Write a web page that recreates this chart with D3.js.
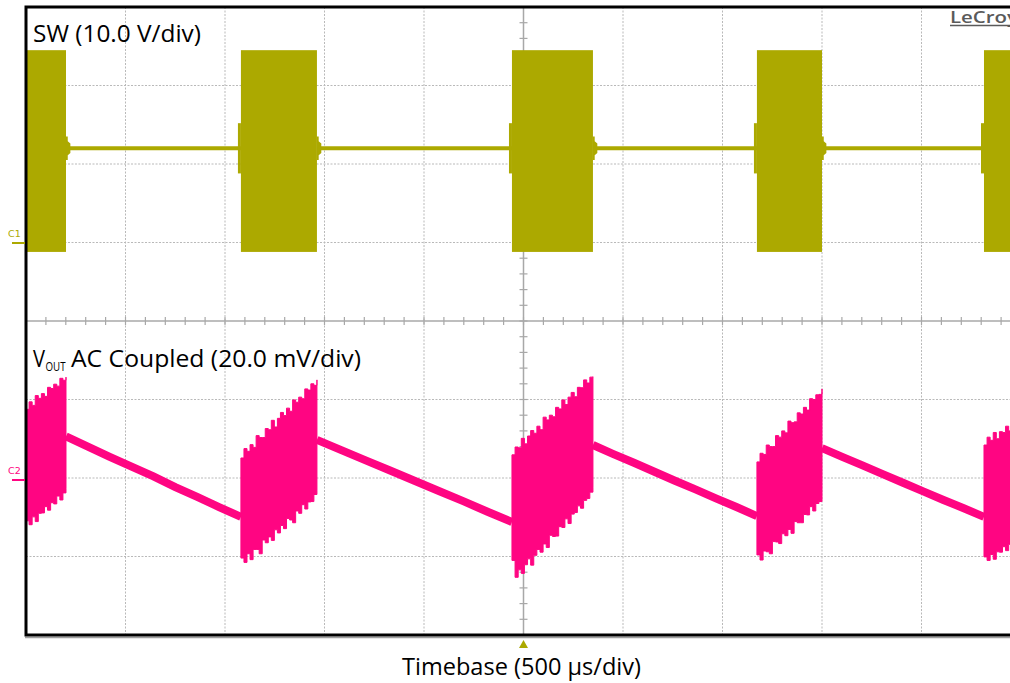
<!DOCTYPE html>
<html><head><meta charset="utf-8">
<script src="https://cdn.jsdelivr.net/npm/d3@7"></script>
<style>html,body{margin:0;padding:0;background:#fff;} svg{display:block;}</style>
</head><body>
<svg id="c" width="1010" height="683"></svg>
<script>
// ---- data (read from the scope capture) ----
const timeDomain = [0, 5000];          // µs, 10 div × 500 µs/div
const timeDivs = 10;
const voltDivs = 8;
const swScale = 10;                    // V/div
const voutScale = 20;                  // mV/div
const swOffsetDiv = 1;                 // C1 ground marker position (div)
const voutOffsetDiv = -2;              // C2 zero marker position (div)

const burstStart = [0, 1080, 2442, 3673, 4814];   // µs
const burstEnd   = [201, 1462, 2849, 4000, 5000]; // µs

const swHigh = 24.5;   // V
const swLow = -1.2;    // V
const swIdle = 12.0;   // V
const swRingPre = 3.2;     // V amplitude of ringing before a burst
const swRingPost = 1.5;    // V amplitude of ringing after a burst
const swRingPreDur = 15;   // µs
const swRingPostDur = 22;  // µs

// Vout ripple envelope during each burst (mV), evenly sampled from burst start to end
const voutBurstHi = [
  [17.5, 19.4, 18.5, 21.0, 20.3, 21.5, 20.8, 23.1, 22.8, 23.9, 23.4, 25.4, 24.9, 25.7],
  [5.1, 7.5, 6.8, 8.5, 7.8, 10.8, 10.3, 10.3, 12.6, 12.3, 14.7, 13.0, 15.2, 16.7, 15.9, 17.8, 17.0, 19.9, 19.3, 20.6, 20.2, 22.7, 22.4, 24.0, 23.6, 25.0],
  [5.9, 7.9, 7.7, 10.1, 8.7, 10.7, 12.1, 11.4, 13.2, 12.3, 15.5, 14.8, 16.0, 15.6, 18.0, 17.6, 19.9, 18.7, 20.6, 21.8, 20.7, 23.1, 23.0, 25.0, 24.2, 25.7, 25.8],
  [4.1, 6.3, 6.0, 8.4, 8.0, 8.0, 10.8, 10.4, 12.0, 11.5, 14.5, 14.1, 14.3, 16.6, 16.3, 18.0, 17.3, 20.2, 20.0, 21.2, 21.3, 22.7],
  [8.4, 10.4, 9.6, 11.6, 10.0, 11.8, 11.6, 13.2, 12.0, 13.7, 13.3, 14.4, 14.0]
];
const voutBurstLo = [
  [-10.9, -11.9, -9.9, -11.1, -9.0, -8.9, -7.3, -8.2, -6.3, -6.6, -4.6, -5.6, -3.8, -2.6],
  [-20.4, -21.5, -19.3, -20.8, -18.2, -18.2, -19.3, -15.8, -16.5, -15.0, -15.9, -13.2, -14.0, -12.1, -12.9, -10.3, -10.7, -11.4, -8.4, -9.0, -6.8, -7.9, -6.1, -6.0, -4.2, -3.1],
  [-21.0, -25.3, -23.4, -24.3, -22.1, -20.6, -22.2, -19.7, -18.2, -18.9, -16.8, -17.7, -14.6, -14.9, -14.8, -12.4, -12.6, -10.4, -11.6, -9.2, -8.8, -7.1, -7.7, -5.7, -5.2, -3.6, -2.5],
  [-19.6, -20.9, -18.6, -18.8, -19.3, -16.2, -16.3, -16.7, -14.2, -14.7, -13.1, -14.1, -11.1, -11.4, -11.4, -9.3, -9.4, -7.3, -8.4, -6.5, -6.0, -4.3],
  [-20.1, -21.0, -19.5, -20.7, -18.8, -18.9, -17.5, -18.5, -16.9, -17.2, -15.5, -16.5, -14.5]
];
// Vout discharge between bursts (mV), evenly sampled from burst end to next burst start
const voutDecay = [
  [10.6, 8.0, 5.4, 2.9, 0.4, -2.3, -4.8, -7.4, -9.9],
  [9.7, 7.1, 4.5, 1.9, -0.7, -3.3, -5.9, -8.6, -11.2],
  [8.4, 6.1, 3.9, 1.6, -0.7, -2.9, -5.2, -7.4, -9.7],
  [7.6, 5.4, 3.2, 1.0, -1.2, -3.4, -5.6, -7.7, -9.9]
];

const swLabel = "SW (10.0 V/div)";
const voutLabelMain = "V";
const voutLabelSub = "OUT";
const voutLabelRest = "AC Coupled (20.0 mV/div)";
const timeLabel = "Timebase (500 µs/div)";
const brand = "LeCroy";

// ---- drawing ----
const swColor = "#aca900";
const voutColor = "#ff0582";
const svg = d3.select("#c");
const L = 26, T = 7, R = 1021, B = 635;
const x = d3.scaleLinear(timeDomain, [L, R]);
const yDiv = d3.scaleLinear([-voltDivs / 2, voltDivs / 2], [B, T]);
const ySW = v => yDiv(v / swScale + swOffsetDiv);
const yVo = mv => yDiv(mv / voutScale + voutOffsetDiv);
const divT = (timeDomain[1] - timeDomain[0]) / timeDivs;

svg.append("defs").append("clipPath").attr("id", "plot")
  .append("rect").attr("x", L).attr("y", T).attr("width", R - L).attr("height", B - T);

// grid
const grid = svg.append("g");
d3.range(1, timeDivs).filter(i => i !== timeDivs / 2).forEach(i => {
  grid.append("line").attr("x1", x(i * divT)).attr("x2", x(i * divT))
    .attr("y1", T).attr("y2", B).attr("stroke", "#b9b9b9").attr("stroke-width", 1)
    .attr("stroke-dasharray", "2,1.5");
});
d3.range(-voltDivs / 2 + 1, voltDivs / 2).filter(j => j !== 0).forEach(j => {
  grid.append("line").attr("x1", L).attr("x2", R)
    .attr("y1", yDiv(j)).attr("y2", yDiv(j)).attr("stroke", "#b9b9b9").attr("stroke-width", 1)
    .attr("stroke-dasharray", "2,1.5");
});
// center axes with minor ticks
const axC = "#a8a8a8";
const cx = x(timeDomain[1] / 2), cy = yDiv(0);
grid.append("line").attr("x1", L).attr("x2", R).attr("y1", cy).attr("y2", cy)
  .attr("stroke", axC).attr("stroke-width", 1.5);
grid.append("line").attr("x1", cx).attr("x2", cx).attr("y1", T).attr("y2", B)
  .attr("stroke", axC).attr("stroke-width", 1.5);
d3.range(0, timeDivs * 5 + 1).forEach(k => {
  const px = x(k * divT / 5);
  grid.append("line").attr("x1", px).attr("x2", px).attr("y1", cy - 4).attr("y2", cy + 4)
    .attr("stroke", axC).attr("stroke-width", 1.2);
});
d3.range(0, voltDivs * 5 + 1).forEach(k => {
  const py = yDiv(-voltDivs / 2 + k / 5);
  grid.append("line").attr("x1", cx - 4).attr("x2", cx + 4).attr("y1", py).attr("y2", py)
    .attr("stroke", axC).attr("stroke-width", 1.2);
});

const traces = svg.append("g").attr("clip-path", "url(#plot)");

// SW trace
const n = burstStart.length;
for (let i = 0; i < n; i++) {
  if (i < n - 1) {
    const e = burstEnd[i];
    traces.append("line").attr("x1", x(e)).attr("x2", x(burstStart[i + 1]))
      .attr("y1", ySW(swIdle)).attr("y2", ySW(swIdle))
      .attr("stroke", swColor).attr("stroke-width", 4);
    traces.append("path").attr("fill", swColor).attr("d", d3.line()([
      [x(e), ySW(swIdle + swRingPost)], [x(e + swRingPostDur * 0.4), ySW(swIdle + swRingPost)],
      [x(e + swRingPostDur * 0.4), ySW(swIdle + swRingPost * 0.6)],
      [x(e + swRingPostDur), ySW(swIdle + swRingPost * 0.4)],
      [x(e + swRingPostDur), ySW(swIdle - swRingPost * 0.4)],
      [x(e + swRingPostDur * 0.4), ySW(swIdle - swRingPost * 0.6)],
      [x(e + swRingPostDur * 0.4), ySW(swIdle - swRingPost)], [x(e), ySW(swIdle - swRingPost)]
    ]) + "Z");
  }
  traces.append("rect").attr("x", x(burstStart[i])).attr("width", x(burstEnd[i]) - x(burstStart[i]))
    .attr("y", ySW(swHigh)).attr("height", ySW(swLow) - ySW(swHigh)).attr("fill", swColor);
  if (i > 0) {
    traces.append("rect").attr("x", x(burstStart[i] - swRingPreDur)).attr("width", x(burstStart[i]) - x(burstStart[i] - swRingPreDur))
      .attr("y", ySW(swIdle + swRingPre)).attr("height", ySW(swIdle - swRingPre) - ySW(swIdle + swRingPre))
      .attr("fill", swColor);
  }
}

// Vout trace
const dline = d3.line().x(d => x(d.t)).y(d => yVo(d.v));
voutDecay.forEach((arr, i) => {
  const t0 = burstEnd[i], t1 = burstStart[i + 1];
  const pts = arr.map((v, k) => ({ t: t0 + k * (t1 - t0) / (arr.length - 1), v }));
  traces.append("path").attr("d", dline(pts)).attr("fill", "none")
    .attr("stroke", voutColor).attr("stroke-width", 8);
});
const area = d3.area().x(d => x(d.t)).y0(d => yVo(d.lo)).y1(d => yVo(d.hi)).curve(d3.curveStepAfter);
for (let i = 0; i < n; i++) {
  const hi = voutBurstHi[i], lo = voutBurstLo[i];
  const pts = hi.map((h, k) => ({
    t: burstStart[i] + k * (burstEnd[i] - burstStart[i]) / (hi.length - 1), hi: h, lo: lo[k]
  }));
  traces.append("path").attr("d", area(pts)).attr("fill", voutColor)
    .attr("stroke", voutColor).attr("stroke-width", 1);
}

// frame
svg.append("line").attr("x1", L - 1).attr("x2", 1010).attr("y1", B + 2.5).attr("y2", B + 2.5)
  .attr("stroke", "#a0a0a0").attr("stroke-width", 1.5);
svg.append("rect").attr("x", L).attr("y", T).attr("width", R - L + 10).attr("height", B - T)
  .attr("fill", "none").attr("stroke", "#000").attr("stroke-width", 3);

// channel markers
svg.append("text").attr("x", 8).attr("y", 237).text("C1").attr("fill", swColor)
  .attr("font-family", "DejaVu Sans").attr("font-size", 9.5);
svg.append("line").attr("x1", 12).attr("x2", L - 1).attr("y1", ySW(0) + 0.5).attr("y2", ySW(0) + 0.5)
  .attr("stroke", swColor).attr("stroke-width", 2);
svg.append("text").attr("x", 8).attr("y", 474).text("C2").attr("fill", voutColor)
  .attr("font-family", "DejaVu Sans").attr("font-size", 9.5);
svg.append("line").attr("x1", 12).attr("x2", L - 1).attr("y1", yVo(0) + 2).attr("y2", yVo(0) + 2)
  .attr("stroke", voutColor).attr("stroke-width", 2);

// trigger marker
svg.append("path").attr("fill", swColor)
  .attr("d", `M${cx},640 L${cx + 4.5},648 L${cx - 4.5},648 Z`);

// labels
const font = "'Open Sans', sans-serif";
svg.append("text").attr("x", 33).attr("y", 42).text(swLabel)
  .attr("font-family", font).attr("font-size", 23).attr("fill", "#000")
  .attr("textLength", 168).attr("lengthAdjust", "spacingAndGlyphs");
svg.append("text").attr("x", 33).attr("y", 367).text(voutLabelMain)
  .attr("font-family", font).attr("font-size", 23).attr("fill", "#000")
  .attr("textLength", 12).attr("lengthAdjust", "spacingAndGlyphs");
svg.append("text").attr("x", 45.5).attr("y", 371).text(voutLabelSub)
  .attr("font-family", font).attr("font-size", 13.5).attr("fill", "#000")
  .attr("textLength", 20).attr("lengthAdjust", "spacingAndGlyphs");
svg.append("text").attr("x", 71).attr("y", 367).text(voutLabelRest)
  .attr("font-family", font).attr("font-size", 23).attr("fill", "#000")
  .attr("textLength", 290).attr("lengthAdjust", "spacingAndGlyphs");
svg.append("text").attr("x", 521.5).attr("y", 675).attr("text-anchor", "middle").text(timeLabel)
  .attr("font-family", font).attr("font-size", 23).attr("fill", "#000")
  .attr("textLength", 239).attr("lengthAdjust", "spacingAndGlyphs");
svg.append("text").attr("x", 950).attr("y", 23).text(brand)
  .attr("font-family", font).attr("font-size", 17).attr("font-weight", 600).attr("fill", "#5a5a5a")
  .attr("textLength", 68).attr("lengthAdjust", "spacingAndGlyphs");
svg.append("line").attr("x1", 950).attr("x2", 1010).attr("y1", 25.5).attr("y2", 25.5)
  .attr("stroke", "#5a5a5a").attr("stroke-width", 1.5);
</script>
</body></html>
